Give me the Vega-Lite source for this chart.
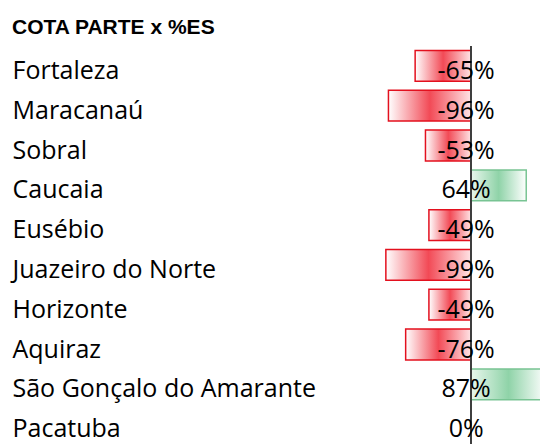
{
  "$schema": "https://vega.github.io/schema/vega-lite/v6.json",
  "autosize": {"type": "none"},
  "padding": {"left": 385, "top": 46, "right": 0, "bottom": 0},
  "width": 155,
  "height": 398,
  "background": "white",
  "title": {
    "text": "COTA PARTE x %ES",
    "anchor": "start",
    "frame": "group",
    "dx": -373,
    "offset": 7,
    "font": "Liberation Sans",
    "fontSize": 21,
    "fontWeight": "bold",
    "color": "#000000"
  },
  "data": {
    "values": [
      {"m": "Fortaleza", "v": -0.65},
      {"m": "Maracanaú", "v": -0.96},
      {"m": "Sobral", "v": -0.53},
      {"m": "Caucaia", "v": 0.64},
      {"m": "Eusébio", "v": -0.49},
      {"m": "Juazeiro do Norte", "v": -0.99},
      {"m": "Horizonte", "v": -0.49},
      {"m": "Aquiraz", "v": -0.76},
      {"m": "São Gonçalo do Amarante", "v": 0.87},
      {"m": "Pacatuba", "v": 0.0}
    ]
  },
  "encoding": {
    "y": {
      "field": "m",
      "type": "nominal",
      "sort": ["Fortaleza", "Maracanaú", "Sobral", "Caucaia", "Eusébio", "Juazeiro do Norte", "Horizonte", "Aquiraz", "São Gonçalo do Amarante", "Pacatuba"],
      "scale": {"paddingInner": 0.225, "paddingOuter": 0.1125},
      "axis": {
        "title": null,
        "ticks": false,
        "domain": false,
        "labelAlign": "left",
        "labelPadding": 373,
        "labelOffset": 5,
        "labelFont": "Open Sans",
        "labelFontSize": 25,
        "labelColor": "#000000",
        "labelLimit": 400
      }
    }
  },
  "layer": [
    {
      "transform": [{"filter": "datum.v < 0"}],
      "mark": {
        "type": "bar",
        "clip": true,
        "stroke": "#e3101e",
        "strokeWidth": 1.5,
        "fill": {
          "gradient": "linear", "x1": 0, "y1": 0, "x2": 1, "y2": 0,
          "stops": [
            {"offset": 0, "color": "#ffffff"},
            {"offset": 0.5, "color": "#f24a56"},
            {"offset": 1, "color": "#ffe4e6"}
          ]
        }
      },
      "encoding": {
        "x": {"field": "v", "type": "quantitative", "scale": {"domain": [-1, 0.8]}, "axis": null}
      }
    },
    {
      "transform": [{"filter": "datum.v > 0"}],
      "mark": {
        "type": "bar",
        "clip": true,
        "stroke": "#78c493",
        "strokeWidth": 1.5,
        "fill": {
          "gradient": "linear", "x1": 0, "y1": 0, "x2": 1, "y2": 0,
          "stops": [
            {"offset": 0, "color": "#e8f6ec"},
            {"offset": 0.5, "color": "#8fd3a8"},
            {"offset": 1, "color": "#ffffff"}
          ]
        }
      },
      "encoding": {
        "x": {"field": "v", "type": "quantitative"}
      }
    },
    {
      "mark": {"type": "rule", "color": "#404040", "strokeWidth": 1.2},
      "encoding": {
        "x": {"datum": 0, "type": "quantitative"},
        "y": null
      }
    },
    {
      "mark": {"type": "text", "align": "center", "dx": -5, "dy": 5, "font": "Open Sans", "fontSize": 25, "color": "#000000"},
      "encoding": {
        "x": {"datum": 0, "type": "quantitative"},
        "text": {"field": "v", "type": "quantitative", "format": ".0%"}
      }
    }
  ],
  "config": {
    "view": {"stroke": null},
    "locale": {
      "number": {"decimal": ".", "thousands": ",", "grouping": [3], "currency": ["$", ""], "minus": "-"}
    }
  }
}
